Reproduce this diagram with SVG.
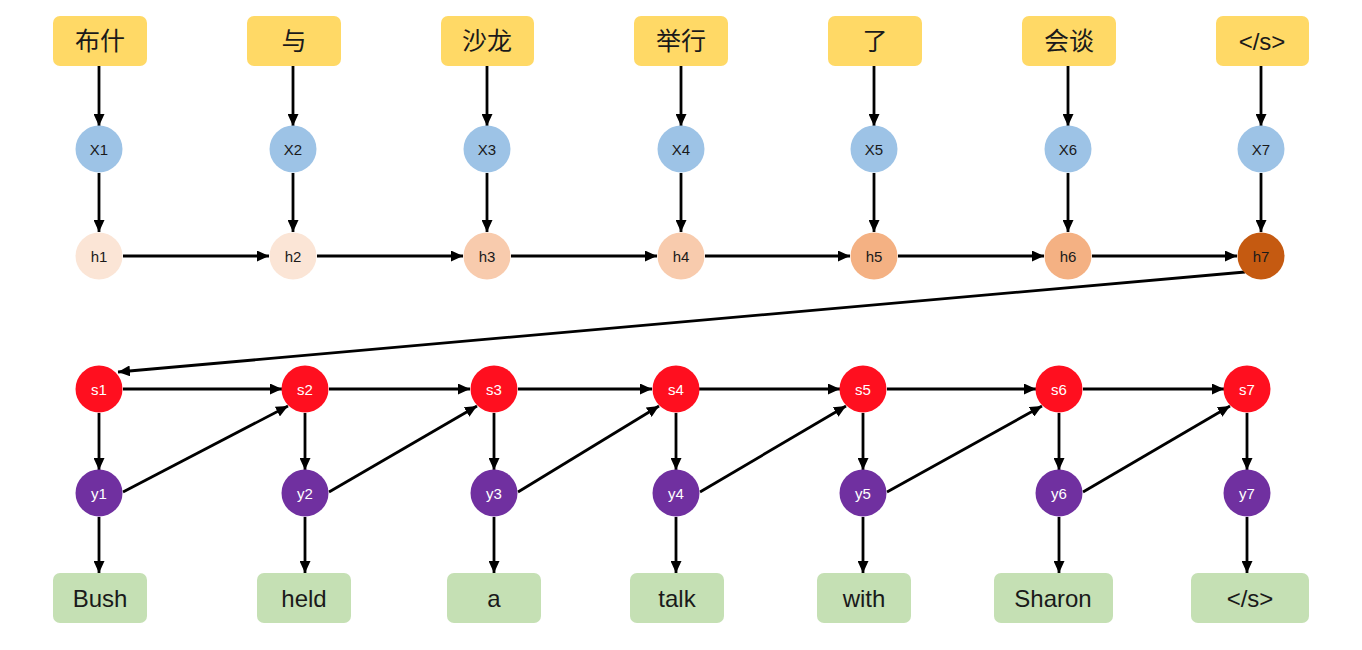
<svg xmlns="http://www.w3.org/2000/svg" width="1362" height="650" viewBox="0 0 1362 650">
<defs>
<style>
.src rect{fill:#FFD966;}
.tgt rect{fill:#C5E0B4;}
.box text{font-family:"Liberation Sans","Noto Sans CJK SC",sans-serif;font-size:24px;fill:#1a1a1a;text-anchor:middle;dominant-baseline:central;}
.src text.cn{font-size:25px;}
.nd text{font-family:"Liberation Sans",sans-serif;font-size:15px;text-anchor:middle;dominant-baseline:central;fill:#1a1a1a;}
.x circle{fill:#9DC3E6;}
.s circle{fill:#FF0F1F;}
.y circle{fill:#7030A0;}
.s text,.y text{fill:#ffffff;}
#edges line{stroke:#000;stroke-width:2.8;marker-end:url(#ah);}
</style>
<marker id="ah" markerUnits="userSpaceOnUse" markerWidth="12" markerHeight="11" refX="12" refY="5.5" orient="auto">
<path d="M0,0 L12,5.5 L0,11 z" fill="#000"/>
</marker>
</defs>
<rect width="1362" height="650" fill="#ffffff"/>

<g id="edges">
<line x1="99" y1="66" x2="99" y2="126"/>
<line x1="293" y1="66" x2="293" y2="126"/>
<line x1="487" y1="66" x2="487" y2="126"/>
<line x1="681" y1="66" x2="681" y2="126"/>
<line x1="874" y1="66" x2="874" y2="126"/>
<line x1="1068" y1="66" x2="1068" y2="126"/>
<line x1="1261" y1="66" x2="1261" y2="126"/>
<line x1="99" y1="173" x2="99" y2="232"/>
<line x1="293" y1="173" x2="293" y2="232"/>
<line x1="487" y1="173" x2="487" y2="232"/>
<line x1="681" y1="173" x2="681" y2="232"/>
<line x1="874" y1="173" x2="874" y2="232"/>
<line x1="1068" y1="173" x2="1068" y2="232"/>
<line x1="1261" y1="173" x2="1261" y2="232"/>
<line x1="123" y1="256" x2="269" y2="256"/>
<line x1="317" y1="256" x2="463" y2="256"/>
<line x1="511" y1="256" x2="657" y2="256"/>
<line x1="705" y1="256" x2="850" y2="256"/>
<line x1="898" y1="256" x2="1044" y2="256"/>
<line x1="1092" y1="256" x2="1237" y2="256"/>
<line x1="1245" y1="272" x2="118" y2="372"/>
<line x1="123" y1="389" x2="282" y2="389"/>
<line x1="329" y1="389" x2="470" y2="389"/>
<line x1="518" y1="389" x2="652" y2="389"/>
<line x1="699" y1="389" x2="840" y2="389"/>
<line x1="887" y1="389" x2="1036" y2="389"/>
<line x1="1083" y1="389" x2="1224" y2="389"/>
<line x1="99" y1="413" x2="99" y2="470"/>
<line x1="305" y1="413" x2="305" y2="470"/>
<line x1="494" y1="413" x2="494" y2="470"/>
<line x1="676" y1="413" x2="676" y2="470"/>
<line x1="863" y1="413" x2="863" y2="470"/>
<line x1="1059" y1="413" x2="1059" y2="470"/>
<line x1="1247" y1="413" x2="1247" y2="470"/>
<line x1="123" y1="492" x2="288" y2="406"/>
<line x1="329" y1="492" x2="477" y2="406"/>
<line x1="518" y1="492" x2="659" y2="406"/>
<line x1="700" y1="492" x2="846" y2="406"/>
<line x1="887" y1="492" x2="1042" y2="406"/>
<line x1="1083" y1="492" x2="1230" y2="406"/>
<line x1="99" y1="517" x2="99" y2="573"/>
<line x1="305" y1="517" x2="305" y2="573"/>
<line x1="494" y1="517" x2="494" y2="573"/>
<line x1="676" y1="517" x2="676" y2="573"/>
<line x1="863" y1="517" x2="863" y2="573"/>
<line x1="1059" y1="517" x2="1059" y2="573"/>
<line x1="1247" y1="517" x2="1247" y2="573"/>
</g>

<g id="w1" class="box src"><rect x="53" y="16" width="94" height="50" rx="7"/><text class="cn" x="100" y="41">布什</text></g>
<g id="w2" class="box src"><rect x="247" y="16" width="94" height="50" rx="7"/><text class="cn" x="294" y="41">与</text></g>
<g id="w3" class="box src"><rect x="441" y="16" width="93" height="50" rx="7"/><text class="cn" x="487" y="41">沙龙</text></g>
<g id="w4" class="box src"><rect x="634" y="16" width="94" height="50" rx="7"/><text class="cn" x="681" y="41">举行</text></g>
<g id="w5" class="box src"><rect x="828" y="16" width="94" height="50" rx="7"/><text class="cn" x="875" y="41">了</text></g>
<g id="w6" class="box src"><rect x="1022" y="16" width="94" height="50" rx="7"/><text class="cn" x="1069" y="41">会谈</text></g>
<g id="w7" class="box src"><rect x="1216" y="16" width="93" height="50" rx="7"/><text x="1262" y="41">&lt;/s&gt;</text></g>

<g id="X1" class="nd x"><circle cx="99" cy="149" r="23.5"/><text x="99" y="149">X1</text></g>
<g id="X2" class="nd x"><circle cx="293" cy="149" r="23.5"/><text x="293" y="149">X2</text></g>
<g id="X3" class="nd x"><circle cx="487" cy="149" r="23.5"/><text x="487" y="149">X3</text></g>
<g id="X4" class="nd x"><circle cx="681" cy="149" r="23.5"/><text x="681" y="149">X4</text></g>
<g id="X5" class="nd x"><circle cx="874" cy="149" r="23.5"/><text x="874" y="149">X5</text></g>
<g id="X6" class="nd x"><circle cx="1068" cy="149" r="23.5"/><text x="1068" y="149">X6</text></g>
<g id="X7" class="nd x"><circle cx="1261" cy="149" r="23.5"/><text x="1261" y="149">X7</text></g>

<g id="h1" class="nd"><circle cx="99" cy="256" r="23.5" fill="#FBE5D6"/><text x="99" y="256">h1</text></g>
<g id="h2" class="nd"><circle cx="293" cy="256" r="23.5" fill="#FBE5D6"/><text x="293" y="256">h2</text></g>
<g id="h3" class="nd"><circle cx="487" cy="256" r="23.5" fill="#F8CBAD"/><text x="487" y="256">h3</text></g>
<g id="h4" class="nd"><circle cx="681" cy="256" r="23.5" fill="#F8CBAD"/><text x="681" y="256">h4</text></g>
<g id="h5" class="nd"><circle cx="874" cy="256" r="23.5" fill="#F4B183"/><text x="874" y="256">h5</text></g>
<g id="h6" class="nd"><circle cx="1068" cy="256" r="23.5" fill="#F4B183"/><text x="1068" y="256">h6</text></g>
<g id="h7" class="nd"><circle cx="1261" cy="256" r="23.5" fill="#C55A11"/><text x="1261" y="256">h7</text></g>

<g id="s1" class="nd s"><circle cx="99" cy="389" r="23.5"/><text x="99" y="389">s1</text></g>
<g id="s2" class="nd s"><circle cx="305" cy="389" r="23.5"/><text x="305" y="389">s2</text></g>
<g id="s3" class="nd s"><circle cx="494" cy="389" r="23.5"/><text x="494" y="389">s3</text></g>
<g id="s4" class="nd s"><circle cx="676" cy="389" r="23.5"/><text x="676" y="389">s4</text></g>
<g id="s5" class="nd s"><circle cx="863" cy="389" r="23.5"/><text x="863" y="389">s5</text></g>
<g id="s6" class="nd s"><circle cx="1059" cy="389" r="23.5"/><text x="1059" y="389">s6</text></g>
<g id="s7" class="nd s"><circle cx="1247" cy="389" r="23.5"/><text x="1247" y="389">s7</text></g>

<g id="y1" class="nd y"><circle cx="99" cy="493" r="23.5"/><text x="99" y="493">y1</text></g>
<g id="y2" class="nd y"><circle cx="305" cy="493" r="23.5"/><text x="305" y="493">y2</text></g>
<g id="y3" class="nd y"><circle cx="494" cy="493" r="23.5"/><text x="494" y="493">y3</text></g>
<g id="y4" class="nd y"><circle cx="676" cy="493" r="23.5"/><text x="676" y="493">y4</text></g>
<g id="y5" class="nd y"><circle cx="863" cy="493" r="23.5"/><text x="863" y="493">y5</text></g>
<g id="y6" class="nd y"><circle cx="1059" cy="493" r="23.5"/><text x="1059" y="493">y6</text></g>
<g id="y7" class="nd y"><circle cx="1247" cy="493" r="23.5"/><text x="1247" y="493">y7</text></g>

<g id="t1" class="box tgt"><rect x="53" y="573" width="94" height="50" rx="7"/><text x="100" y="598">Bush</text></g>
<g id="t2" class="box tgt"><rect x="257" y="573" width="94" height="50" rx="7"/><text x="304" y="598">held</text></g>
<g id="t3" class="box tgt"><rect x="447" y="573" width="94" height="50" rx="7"/><text x="494" y="598">a</text></g>
<g id="t4" class="box tgt"><rect x="630" y="573" width="94" height="50" rx="7"/><text x="677" y="598">talk</text></g>
<g id="t5" class="box tgt"><rect x="817" y="573" width="94" height="50" rx="7"/><text x="864" y="598">with</text></g>
<g id="t6" class="box tgt"><rect x="994" y="573" width="119" height="50" rx="7"/><text x="1053" y="598">Sharon</text></g>
<g id="t7" class="box tgt"><rect x="1191" y="573" width="118" height="50" rx="7"/><text x="1250" y="598">&lt;/s&gt;</text></g>
</svg>
